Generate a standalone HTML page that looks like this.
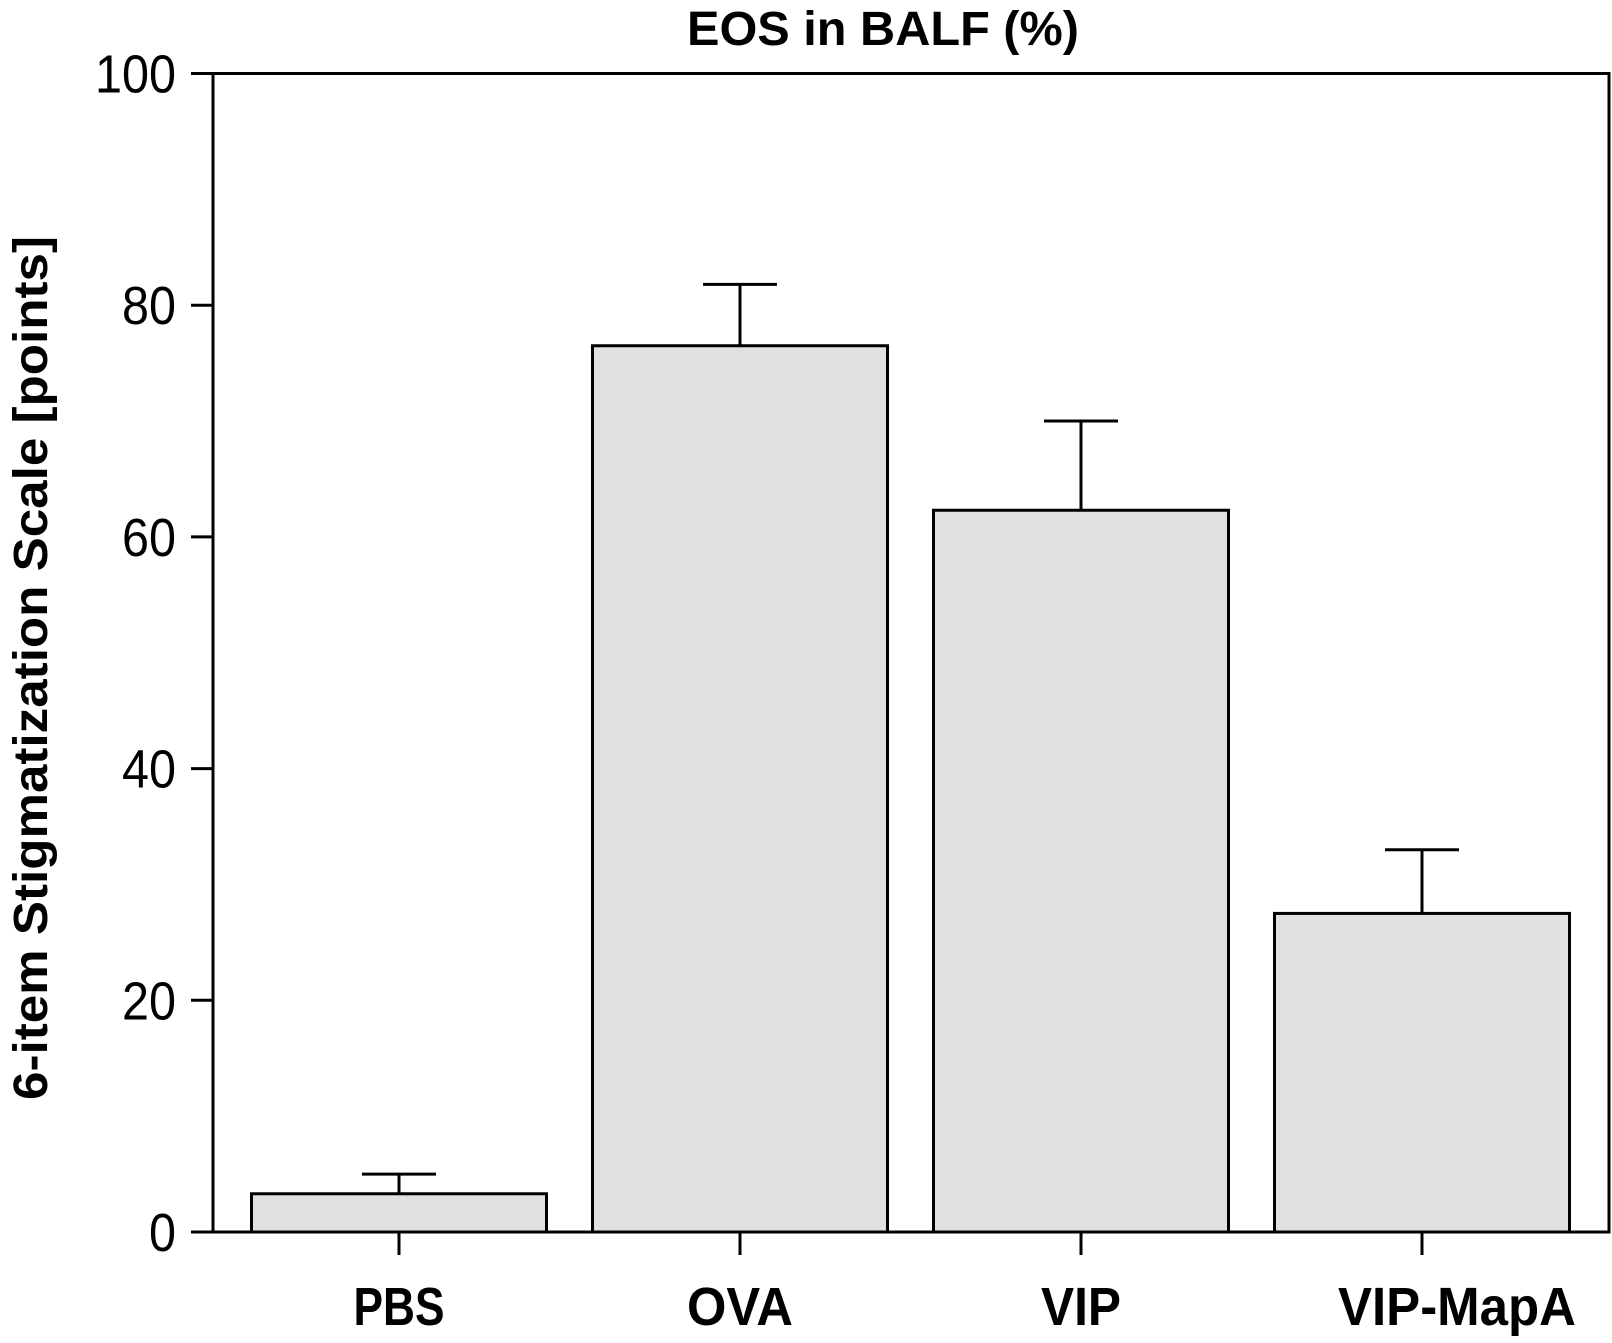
<!DOCTYPE html>
<html><head><meta charset="utf-8"><style>
body{margin:0;background:#fff;width:1612px;height:1338px;overflow:hidden}
svg text{font-family:"Liberation Sans",sans-serif}
</style></head><body>
<svg id="chart" width="1612" height="1338" viewBox="0 0 1612 1338" xmlns="http://www.w3.org/2000/svg">
<text x="883" y="45" text-anchor="middle" font-size="48" font-weight="bold" textLength="392" lengthAdjust="spacingAndGlyphs">EOS in BALF (%)</text>
<text transform="translate(47,668) rotate(-90)" text-anchor="middle" font-size="48" font-weight="bold" textLength="864" lengthAdjust="spacingAndGlyphs">6-item Stigmatization Scale [points]</text>
<g id="plot"></g>
</svg>
<script>
const categories=["PBS","OVA","VIP","VIP-MapA"];
const values=[3.3,76.5,62.3,27.5];
const errors=[1.7,5.3,7.7,5.5];
const yTicks=[0,20,40,60,80,100];
const X0=213,X1=1609,Y0=1232,Y1=73.5,ymax=100;
const firstCenter=399,step=341,barW=295,capHalf=37;
const labelW={"PBS":91,"OVA":106,"VIP":80,"VIP-MapA":238};
function y(v){return Y0-(v/ymax)*(Y0-Y1);}
function x(i){return firstCenter+i*step;}
const ns="http://www.w3.org/2000/svg";
const g=document.getElementById('plot');
function el(t,a){const e=document.createElementNS(ns,t);for(const k in a)e.setAttribute(k,a[k]);g.appendChild(e);return e;}
categories.forEach((c,i)=>{
  const b=el('rect',{x:x(i)-barW/2,y:y(values[i]),width:barW,height:Y0-y(values[i]),fill:'#e0e0e0',stroke:'#000','stroke-width':3});
  
  
  const e=el('path',{d:`M${x(i)} ${y(values[i])}V${y(values[i]+errors[i])}M${x(i)-capHalf} ${y(values[i]+errors[i])}H${x(i)+capHalf}`,stroke:'#000','stroke-width':3,fill:'none'});
  
  
  const t=el('line',{x1:x(i),x2:x(i),y1:Y0,y2:Y0+23,stroke:'#000','stroke-width':3});
  
  
  const l=el('text',{x:x(i)+(i==3?35:0),y:1325,'text-anchor':'middle','font-size':54,'font-weight':'bold',textLength:labelW[c]||c.length*28,lengthAdjust:'spacingAndGlyphs'});
  l.textContent=c;
  
  
});
yTicks.forEach(v=>{
  const s=String(v);
  const t=el('line',{x1:X0-22,x2:X0,y1:y(v),y2:y(v),stroke:'#000','stroke-width':3});
  
  
  const l=el('text',{x:176,y:y(v)+19,'text-anchor':'end','font-size':54,textLength:s.length*27,lengthAdjust:'spacingAndGlyphs'});
  l.textContent=s;
  
  
});
const f=el('rect',{x:X0,y:Y1,width:X1-X0,height:Y0-Y1,fill:'none',stroke:'#000','stroke-width':3});


</script>
</body></html>
